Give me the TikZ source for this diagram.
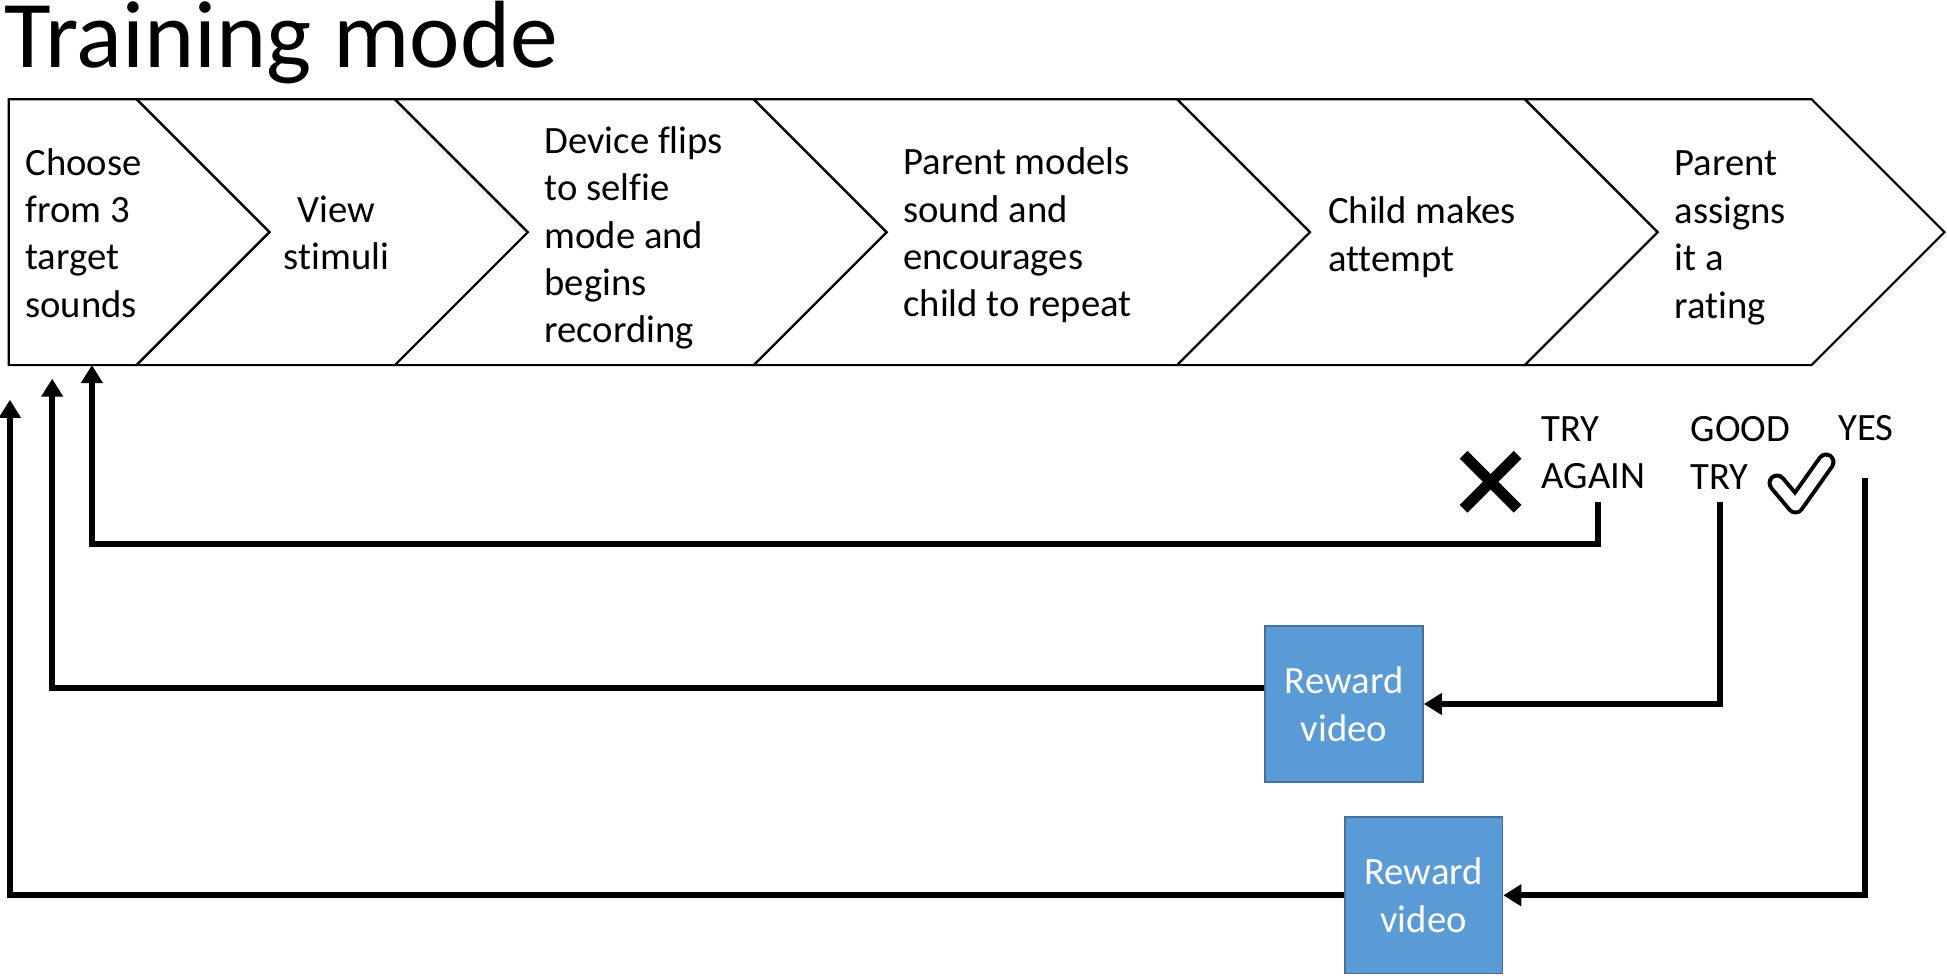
\documentclass[tikz,border=0pt]{standalone}
\usepackage{fontspec}
\setmainfont[Ligatures=NoCommon]{Carlito}
\usetikzlibrary{arrows.meta}
\definecolor{rwdblue}{HTML}{5B9BD5}
\definecolor{rwdedge}{HTML}{41719C}
\tikzstyle{stage} = [inner sep=0pt, anchor=west, align=left, font=\fontsize{11}{13.5}\selectfont]
\tikzstyle{chev} = [draw=black, line width=0.6pt]
\tikzstyle{rwd} = [rectangle, minimum width=1.577cm, minimum height=1.565cm, align=center, draw=rwdedge, line width=0.5pt, fill=rwdblue, text=white, font=\fontsize{11}{13.5}\selectfont]
\tikzstyle{arrow} = [line width=0.058cm, -{Triangle[length=0.18cm,width=0.21cm]}]

\begin{document}
\begin{tikzpicture}
\useasboundingbox (0,0) rectangle (19.47,-9.76);

%Title
\node (title) [anchor=base west, inner sep=0pt, font=\fontsize{27.2}{33}\selectfont] at (0.04,-0.675) {Training mode};

%Chevrons
\draw [chev] (0.087,-0.993) -- (1.366,-0.993) -- (2.695,-2.322) -- (1.366,-3.651) -- (0.087,-3.651) -- cycle;
\foreach \xa/\xb in {1.366/3.949, 3.949/7.537, 7.537/11.771, 11.771/15.248, 15.248/18.116}
  \draw [chev] (\xa,-0.993) -- (\xb,-0.993) -- (\xb+1.329,-2.322) -- (\xb,-3.651) -- (\xa,-3.651) -- (\xa+1.329,-2.322) -- cycle;

%Stages
\node (choose) [stage] at (0.248,-2.33) {Choose\\from 3\\target\\sounds};
\node (view) [stage, anchor=center, align=center] at (3.365,-2.33) {View\\stimuli};
\node (flip) [stage] at (5.439,-2.38) {Device flips\\to selfie\\mode and\\begins\\recording};
\node (model) [stage] at (9.027,-2.355) {Parent models\\sound and\\encourages\\child to repeat};
\node (attempt) [stage] at (13.274,-2.37) {Child makes\\attempt};
\node (rating) [stage] at (16.738,-2.38) {Parent\\assigns\\it a\\rating};

%Ratings
\node (again) [stage] at (15.41,-4.53) {TRY\\AGAIN};
\node (good) [stage] at (16.90,-4.53) {GOOD\\TRY};
\node (yes) [stage] at (18.377,-4.284) {YES};

%Marks
\coordinate (cross) at (14.906,-4.818);
\draw [line width=0.11cm] ([shift={(-0.27,0.27)}]cross) -- ([shift={(0.27,-0.27)}]cross);
\draw [line width=0.11cm] ([shift={(-0.27,-0.27)}]cross) -- ([shift={(0.27,0.27)}]cross);
\draw [line width=0.04cm, double=white, double distance=0.11cm, line cap=round, line join=round] (17.77,-4.83) -- (17.955,-5.05) -- (18.26,-4.62);

%Reward boxes
\node (rw1) [rwd] at (13.441,-7.040) {Reward\\video};
\node (rw2) [rwd] at (14.236,-8.953) {Reward\\video};

%Ends
\coordinate (from1) at (15.981,-5.016);
\coordinate (from2) at (17.198,-5.016);
\coordinate (from3) at (18.650,-4.781);
\coordinate (turn1) at (0.919,-5.439);
\coordinate (back1) at (0.919,-3.651);
\coordinate (back2) at (0.522,-3.787);
\coordinate (back3) at (0.099,-3.998);

%arrows
\draw [arrow] (from1) |- (turn1) -- (back1);
\draw [arrow] (from2) |- (rw1.east);
\draw [arrow] ([yshift=0.16cm]rw1.west) -| (back2);
\draw [arrow] (from3) |- (rw2.east);
\draw [arrow] (rw2.west) -| (back3);

\end{tikzpicture}
\end{document}
